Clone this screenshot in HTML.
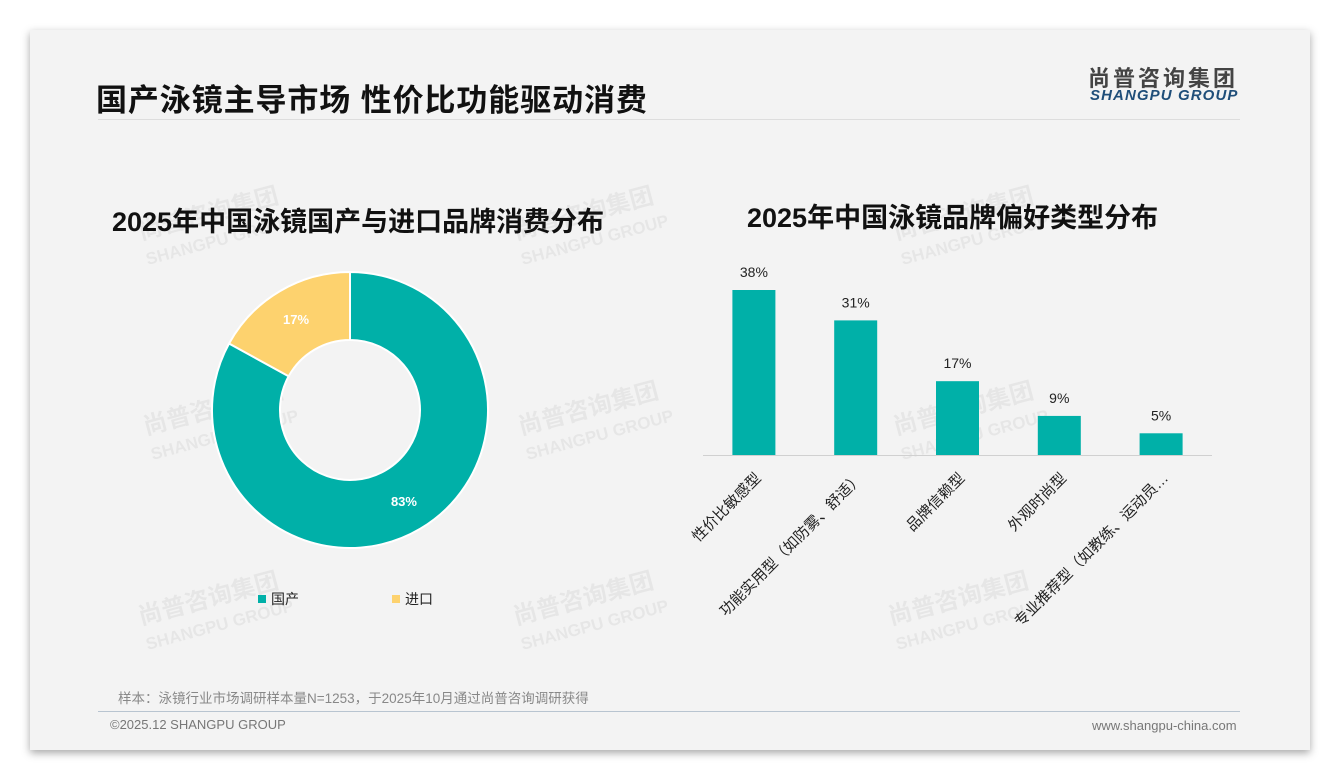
<!DOCTYPE html>
<html><head><meta charset="utf-8"><style>
body{margin:0;width:1340px;height:780px;background:#fff;font-family:"Liberation Sans","Noto Sans CJK SC",sans-serif;position:relative;overflow:hidden}
.slide{position:absolute;left:30px;top:30px;width:1280px;height:720px;background:#f3f3f3;box-shadow:0 3px 8px rgba(0,0,0,.35)}
.abs{position:absolute;white-space:nowrap}
.wm{position:absolute;color:rgba(0,0,0,.05);font-weight:bold;transform:rotate(-15deg);line-height:1.1}
</style></head><body>
<div class="slide">
 <div class="abs" style="left:66px;top:45px;font-size:31px;font-weight:bold;color:#111;letter-spacing:0.9px">国产泳镜主导市场 性价比功能驱动消费</div>
 <div style="position:absolute;left:68px;top:89px;width:1142px;height:1px;background:#ddd"></div>
 <div class="abs" style="left:1058px;top:31px;font-size:22px;font-weight:bold;color:#444;letter-spacing:3px">尚普咨询集团</div>
 <div class="abs" style="left:1060px;top:57px;font-size:15px;font-weight:bold;font-style:italic;color:#1f4e79;letter-spacing:1.1px">SHANGPU GROUP</div>
 <div class="abs" style="left:82px;top:170px;font-size:27px;font-weight:bold;color:#111">2025年中国泳镜国产与进口品牌消费分布</div>
 <div class="abs" style="left:717px;top:166px;font-size:27px;font-weight:bold;color:#111">2025年中国泳镜品牌偏好类型分布</div>
 <div class="abs" style="left:88px;top:657px;font-size:13.5px;color:#888">样本：泳镜行业市场调研样本量N=1253，于2025年10月通过尚普咨询调研获得</div>
 <div style="position:absolute;left:68px;top:681px;width:1142px;height:1px;background:#b8c4d0"></div>
 <div class="abs" style="left:80px;top:687px;font-size:13px;color:#777">©2025.12 SHANGPU GROUP</div>
 <div class="abs" style="left:1062px;top:688px;font-size:13px;color:#777">www.shangpu-china.com</div>
</div>
<div class="wm" style="left:140px;top:200px;font-size:24px">尚普咨询集团<br><span style="font-size:17px">SHANGPU GROUP</span></div>
<div class="wm" style="left:515px;top:200px;font-size:24px">尚普咨询集团<br><span style="font-size:17px">SHANGPU GROUP</span></div>
<div class="wm" style="left:895px;top:200px;font-size:24px">尚普咨询集团<br><span style="font-size:17px">SHANGPU GROUP</span></div>
<div class="wm" style="left:145px;top:395px;font-size:24px">尚普咨询集团<br><span style="font-size:17px">SHANGPU GROUP</span></div>
<div class="wm" style="left:520px;top:395px;font-size:24px">尚普咨询集团<br><span style="font-size:17px">SHANGPU GROUP</span></div>
<div class="wm" style="left:895px;top:395px;font-size:24px">尚普咨询集团<br><span style="font-size:17px">SHANGPU GROUP</span></div>
<div class="wm" style="left:140px;top:585px;font-size:24px">尚普咨询集团<br><span style="font-size:17px">SHANGPU GROUP</span></div>
<div class="wm" style="left:515px;top:585px;font-size:24px">尚普咨询集团<br><span style="font-size:17px">SHANGPU GROUP</span></div>
<div class="wm" style="left:890px;top:585px;font-size:24px">尚普咨询集团<br><span style="font-size:17px">SHANGPU GROUP</span></div>
<svg id="chart" width="1340" height="780" style="position:absolute;left:0;top:0" xmlns="http://www.w3.org/2000/svg"></svg>
<script>
const pieLabels=["国产","进口"];
const pieValues=[83,17];
const pieColors=["#00b0a8","#fdd26e"];
const barCats=["性价比敏感型","功能实用型（如防雾、舒适）","品牌信赖型","外观时尚型","专业推荐型（如教练、运动员…"];
const barValues=[38,31,17,9,5];
const NS="http://www.w3.org/2000/svg";
const svg=document.getElementById('chart');
function mk(t,a,p){const e=document.createElementNS(NS,t);for(const k in a)e.setAttribute(k,a[k]);(p||svg).appendChild(e);return e;}
const cx=350,cy=410,R=138,r=70;
const tot=pieValues.reduce((a,b)=>a+b,0);
let ang=-Math.PI/2;
pieValues.forEach((v,i)=>{
 const a0=ang,a1=ang+v/tot*2*Math.PI;ang=a1;
 const lg=(a1-a0)>Math.PI?1:0;
 const p=(a,rr)=>[cx+rr*Math.cos(a),cy+rr*Math.sin(a)];
 const [x0,y0]=p(a0,R),[x1,y1]=p(a1,R),[x2,y2]=p(a1,r),[x3,y3]=p(a0,r);
 const s=mk('path',{d:`M${x0},${y0}A${R},${R} 0 ${lg} 1 ${x1},${y1}L${x2},${y2}A${r},${r} 0 ${lg} 0 ${x3},${y3}Z`,fill:pieColors[i],stroke:'#fff','stroke-width':2});
 
 
 const am=(a0+a1)/2,[lx,ly]=p(am,(R+r)/2+2);
 const t=mk('text',{x:lx,y:ly+5,'text-anchor':'middle','font-size':13,'font-weight':'bold',fill:'#fff'});
 t.textContent=v+'%';
 
 
 const lx0=258+i*134;
 const sw=mk('rect',{x:lx0,y:595,width:8,height:8,fill:pieColors[i]});
 
 
 const lt=mk('text',{x:lx0+13,y:604,'font-size':14,fill:'#222'});
 lt.textContent=pieLabels[i];
 
 
});
const x0=703,x1=1212,base=455,scale=165/38;
const band=(x1-x0)/barCats.length,bw=43;
const ax=mk('line',{x1:x0,y1:base+0.5,x2:x1,y2:base+0.5,stroke:'#d0d0d0','stroke-width':1});


barCats.forEach((c,i)=>{
 const xc=x0+band*(i+0.5),h=barValues[i]*scale;
 const b=mk('rect',{x:xc-bw/2,y:base-h,width:bw,height:h,fill:'#00b0a8'});
 
 
 const v=mk('text',{x:xc,y:base-h-13,'text-anchor':'middle','font-size':14,fill:'#222'});
 v.textContent=barValues[i]+'%';
 
 
 const tx=xc+8,ty=base+24;
 const t=mk('text',{x:tx,y:ty,'text-anchor':'end','font-size':15,fill:'#222',transform:`rotate(-45 ${tx} ${ty})`});
 t.textContent=c;
 
 
});
</script>
</body></html>
